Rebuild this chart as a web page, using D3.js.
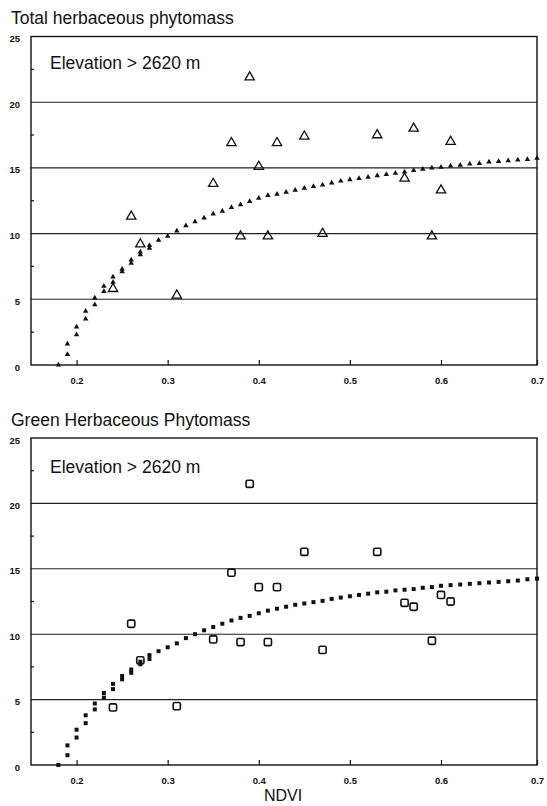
<!DOCTYPE html>
<html>
<head>
<meta charset="utf-8">
<title>Herbaceous phytomass vs NDVI</title>
<script type="text/javascript" src="https://cdn.jsdelivr.net/npm/d3@7"></script>
<style>
body { margin:0; background:#fff; }
svg text { font-family: "Liberation Sans", Arial, sans-serif; fill:#111; }
</style>
</head>
<body>
<div id="chart"></div>

<script>
// field sites (NDVI) and measured phytomass
var ndvi = [0.24,0.26,0.27,0.31,0.35,0.37,0.38,0.39,0.40,0.41,0.42,0.45,0.47,0.53,0.56,0.57,0.59,0.60,0.61];
var totalObs = [5.8,11.3,9.2,5.3,13.8,16.9,9.8,21.9,15.1,9.8,16.9,17.4,10.0,17.5,14.2,18.0,9.8,13.3,17.0];
var greenObs = [4.4,10.8,8.0,4.5,9.6,14.7,9.4,21.5,13.6,9.4,13.6,16.3,8.8,16.3,12.4,12.1,9.5,13.0,12.5];

// fitted curve, as plotted (low end has two points per x)
var fitX = [0.18,
	0.19,0.19,0.20,0.20,0.21,0.21,0.22,0.22,0.23,0.23,0.24,0.24,0.25,0.25,0.26,0.26,0.27,0.27,0.28,0.28,
	0.29,0.30,0.31,0.32,0.33,0.34,0.35,0.36,0.37,0.38,
	0.39,0.40,0.41,0.42,0.43,0.44,0.45,0.46,0.47,0.48,
	0.49,0.50,0.51,0.52,0.53,0.54,0.55,0.56,0.57,0.58,
	0.59,0.60,0.61,0.62,0.63,0.64,0.65,0.66,0.67,0.68,
	0.69,0.70];
var totalFit = [0,
	0.8,1.6,2.3,2.9,3.5,4.1,4.6,5.1,5.6,6.0,6.3,6.7,7.1,7.3,7.75,8.0,8.4,8.6,8.9,9.1,
	9.5,9.8,10.2,10.6,10.9,11.2,11.5,11.7,12.0,12.2,
	12.45,12.7,12.9,13.0,13.15,13.3,13.45,13.6,13.7,13.85,
	14.0,14.1,14.2,14.3,14.4,14.5,14.6,14.7,14.8,14.9,
	15.0,15.05,15.15,15.2,15.3,15.35,15.45,15.5,15.55,15.6,
	15.65,15.75];
var greenFit = [0,
	0.75,1.5,2.1,2.7,3.2,3.8,4.25,4.7,5.15,5.5,5.8,6.2,6.55,6.8,7.05,7.3,7.7,7.9,8.1,8.4,
	8.7,9.0,9.3,9.7,10.0,10.3,10.55,10.8,11.05,11.25,
	11.4,11.6,11.8,11.95,12.1,12.25,12.35,12.45,12.55,12.7,
	12.8,12.9,13.0,13.1,13.2,13.25,13.35,13.4,13.45,13.55,
	13.6,13.7,13.75,13.8,13.85,13.9,13.95,14.0,14.05,14.1,
	14.2,14.25];

var xTicks = [0.2,0.3,0.4,0.5,0.6,0.7];
var yTicks = [0,5,10,15,20,25];
var yMinor = [2.5,7.5,12.5,17.5,22.5];

var svg = d3.select("#chart").append("svg")
	.attr("width",547).attr("height",806);

// the scan is slightly stretched past 0.6, so the x scale has a knee there
var x = d3.scaleLinear().domain([0.15,0.6,0.7]).range([31,441,537]);

function panel(title, obs, fit, y0, y25, marker, titleY, elevY){
	var y = d3.scaleLinear().domain([0,25]).range([y0,y25]);
	var g = svg.append("g");

	g.append("text").attr("x",11).attr("y",titleY).style("font-size","17.5px").text(title);

	// grid lines
	g.selectAll(".grid").data([5,10,15,20]).enter().append("line")
		.attr("x1",x(0.15)).attr("x2",x(0.7))
		.attr("y1",function(d){return y(d);}).attr("y2",function(d){return y(d);})
		.attr("stroke","#222").attr("stroke-width",1.1);

	// frame
	g.append("rect").attr("x",x(0.15)).attr("y",y(25))
		.attr("width",x(0.7)-x(0.15)).attr("height",y(0)-y(25))
		.attr("fill","none").attr("stroke","#111").attr("stroke-width",1.4);

	// x ticks (inward) and labels
	var xa = d3.axisBottom(x).tickValues(xTicks).tickSizeInner(-5).tickSizeOuter(0).tickPadding(12)
		.tickFormat(d3.format(".1f"));
	var gx = g.append("g").attr("transform","translate(0,"+y(0)+")").call(xa);
	gx.select(".domain").remove();
	gx.selectAll("line").attr("stroke","#111").attr("stroke-width",1.2);
	gx.selectAll("text").style("font-size","9.5px").style("font-weight","bold");

	// y labels, minor ticks
	var ya = d3.axisLeft(y).tickValues(yTicks).tickSize(0).tickPadding(11);
	var gy = g.append("g").attr("transform","translate("+x(0.15)+",2)").call(ya);
	gy.select(".domain").remove();
	gy.selectAll("text").style("font-size","9.5px").style("font-weight","bold");
	g.selectAll(".minor").data(yMinor).enter().append("line")
		.attr("x1",x(0.15)).attr("x2",x(0.15)+3)
		.attr("y1",function(d){return y(d);}).attr("y2",function(d){return y(d);})
		.attr("stroke","#111").attr("stroke-width",1.2);

	g.append("text").attr("x",50).attr("y",elevY).style("font-size","17.5px").text("Elevation > 2620 m");

	// fitted curve
	if(marker=="tri"){
		g.selectAll(".fit").data(fitX).enter().append("path")
			.attr("d",d3.symbol().type(d3.symbolTriangle).size(13))
			.attr("transform",function(d,i){return "translate("+x(d)+","+y(fit[i])+")";})
			.attr("fill","#111");
		g.selectAll(".obs").data(ndvi).enter().append("path")
			.attr("d",d3.symbol().type(d3.symbolTriangle).size(38))
			.attr("transform",function(d,i){return "translate("+x(d)+","+y(obs[i])+")";})
			.attr("fill","none").attr("stroke","#111").attr("stroke-width",1.3);
	} else {
		g.selectAll(".fit").data(fitX).enter().append("rect")
			.attr("x",function(d){return x(d)-2;})
			.attr("y",function(d,i){return y(fit[i])-2;})
			.attr("width",4).attr("height",4).attr("fill","#111");
		g.selectAll(".obs").data(ndvi).enter().append("rect")
			.attr("x",function(d){return x(d)-3.6;})
			.attr("y",function(d,i){return y(obs[i])-3.6;})
			.attr("width",7.2).attr("height",7.2).attr("rx",1.5)
			.attr("fill","none").attr("stroke","#111").attr("stroke-width",1.6);
	}
}

panel("Total herbaceous phytomass", totalObs, totalFit, 365, 36.5, "tri", 24, 69);
panel("Green Herbaceous Phytomass", greenObs, greenFit, 765, 438, "sq", 426, 473);

svg.append("text").attr("x",283).attr("y",801).attr("text-anchor","middle")
	.style("font-size","16px").text("NDVI");
</script>
</body>
</html>
